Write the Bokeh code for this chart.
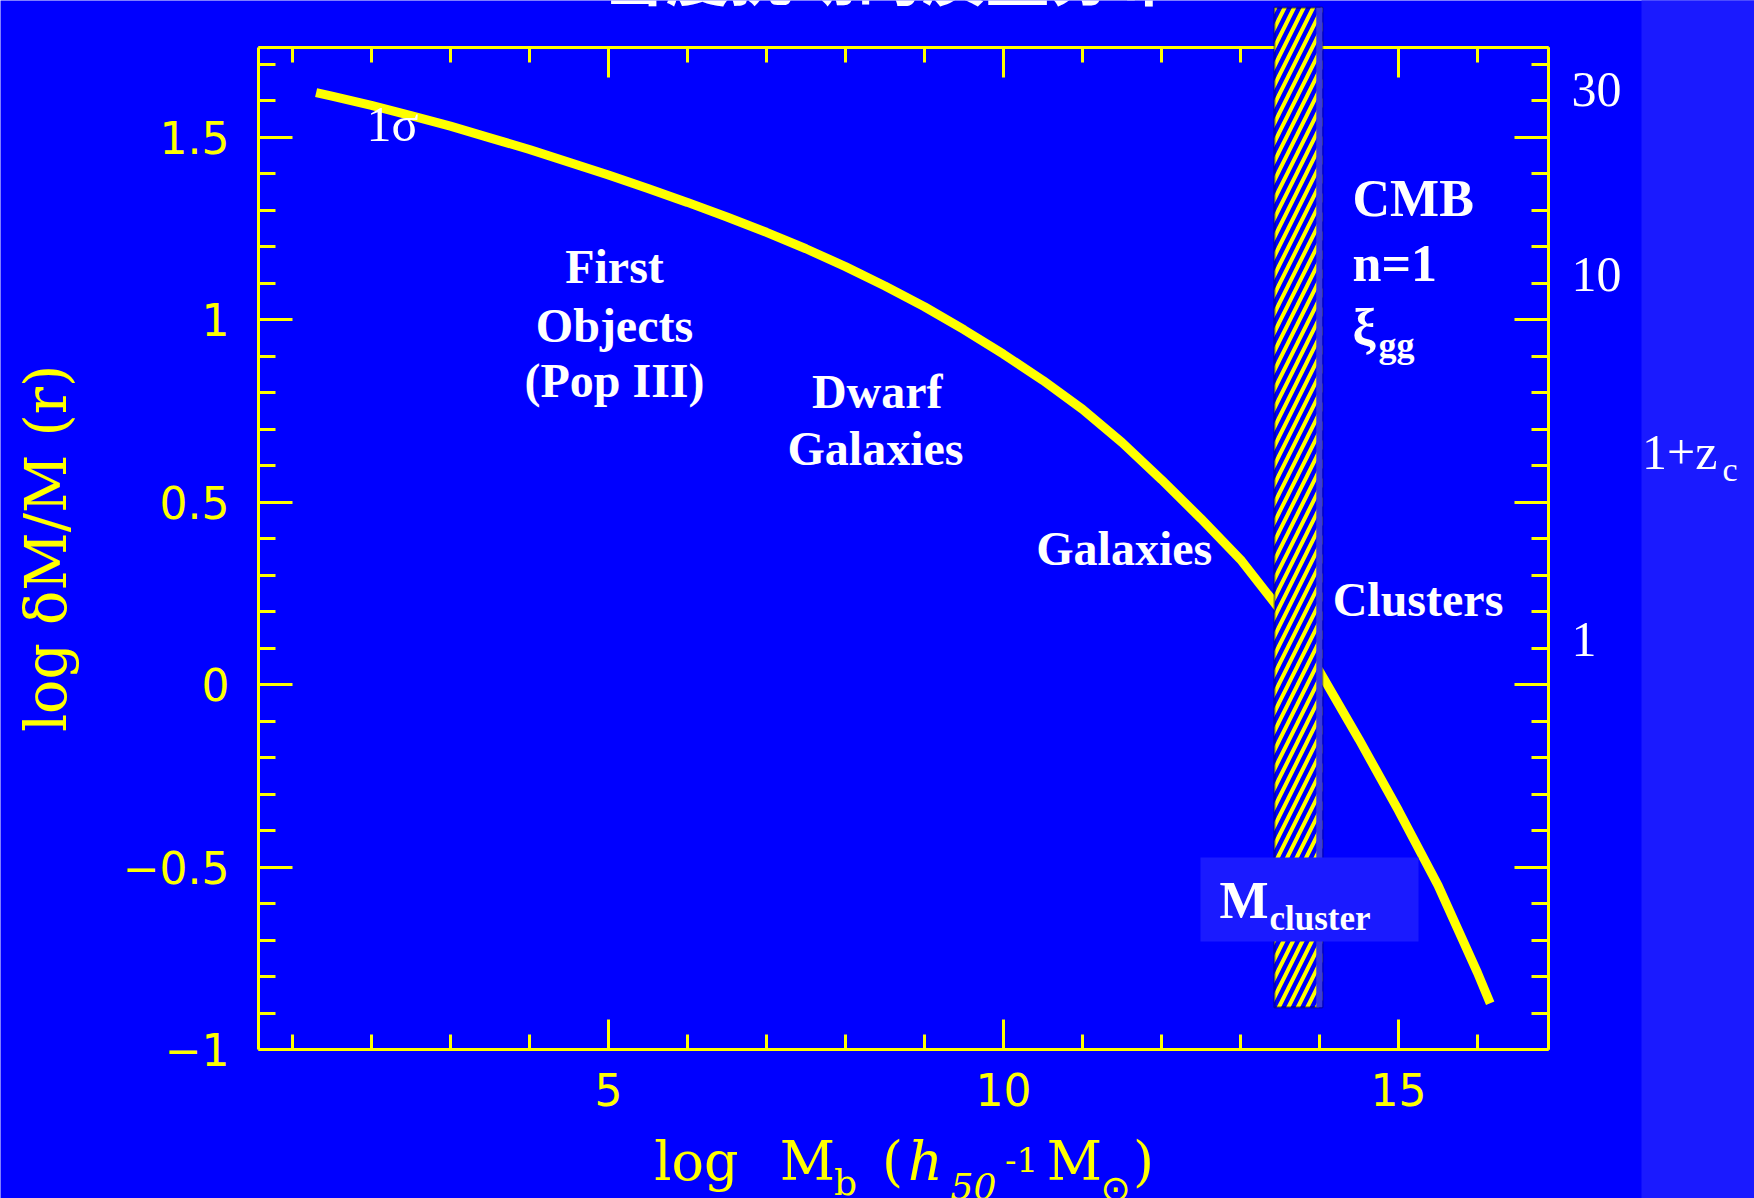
import numpy as np
from bokeh.plotting import figure
from bokeh.models import Range1d, FixedTicker, LinearAxis, Label, BoxAnnotation
from bokeh.embed import file_html
from bokeh.resources import INLINE

# rms mass fluctuation (log dM/M) against log baryonic mass
log_mass = [1.3, 1.5, 2.0, 2.5, 3.0, 3.5, 4.0, 4.5, 5.0, 5.5, 6.0, 6.5, 7.0,
            7.5, 8.0, 8.5, 9.0, 9.5, 10.0, 10.5, 11.0, 11.5, 12.0, 12.5,
            13.0, 13.5, 14.0, 14.5, 15.0, 15.5, 16.0, 16.16]
log_dmm = [1.623, 1.613, 1.588, 1.560, 1.531, 1.499, 1.467, 1.432, 1.397,
           1.360, 1.322, 1.282, 1.240, 1.195, 1.146, 1.093, 1.036, 0.973,
           0.906, 0.834, 0.755, 0.664, 0.562, 0.455, 0.343, 0.205, 0.037,
           -0.150, -0.345, -0.550, -0.790, -0.873]

# mass band of rich clusters (log M)
cluster_band = [13.43, 14.035]

# axis ticks
x_major = [5, 10, 15]
x_major_labels = ["5", "10", "15"]
x_minor = [1, 2, 3, 4, 6, 7, 8, 9, 11, 12, 13, 14, 16]
y_major = [-1, -0.5, 0, 0.5, 1, 1.5]
y_major_labels = ["\u22121", "\u22120.5", "0", "0.5", "1", "1.5"]
y_minor = [round(v, 1) for v in np.arange(-1.0, 1.75, 0.1)
           if round(v, 1) not in y_major]

# collapse redshift scale (1 + z_c) beside the right axis
zc_labels = ["30", "10", "1"]
zc_label_y = [1.631, 1.124, 0.123]

BLUE = "#0000ff"
STRIP = "#1a1aff"
YELLOW = "#ffff00"
WHITE = "#ffffff"

# plot box: data limits and where they sit on the page
X0, X1 = 0.571, 16.898
Y0, Y1 = -1.0, 1.7466
FL, FT, FW, FH = 258, 47, 1290, 1002
W, H = 1754, 1198


def dx(px):
    return X0 + (px - FL) * (X1 - X0) / FW


def dy(py):
    return Y1 - (py - FT) * (Y1 - Y0) / FH


p = figure(frame_width=W, frame_height=H, min_border=0,
           x_range=Range1d(dx(0), dx(W)), y_range=Range1d(dy(H), dy(0)),
           output_backend="svg", toolbar_location=None,
           background_fill_color=BLUE, border_fill_color=BLUE,
           outline_line_color=None)
p.grid.visible = False


def style_axis(ax, loc, bounds, ticks, minor, t_major, t_minor,
               labels=None, standoff=0):
    ax.fixed_location = loc
    ax.bounds = bounds
    ax.ticker = FixedTicker(ticks=ticks, minor_ticks=minor)
    ax.axis_line_color = YELLOW
    ax.axis_line_width = 3
    ax.major_tick_line_color = YELLOW
    ax.major_tick_line_width = 3
    ax.minor_tick_line_color = YELLOW
    ax.minor_tick_line_width = 3
    ax.major_tick_in = t_major
    ax.major_tick_out = 0
    ax.minor_tick_in = t_minor
    ax.minor_tick_out = 0
    if labels is not None:
        ax.major_label_overrides = {float(v): t for v, t in zip(ticks, labels)}
        ax.major_label_text_color = YELLOW
        ax.major_label_text_font = "DejaVu Sans"
        ax.major_label_text_font_size = "44px"
        ax.major_label_standoff = standoff


# labelled bottom and left axes
style_axis(p.xaxis[0], Y0, (X0, X1), x_major, x_minor, 30, 15,
           x_major_labels, 23)
style_axis(p.yaxis[0], X0, (Y0, Y1), y_major, y_minor, 34, 17,
           y_major_labels, 29)

# mirrored top and right axes: ticks only
for ticks, length in [(x_minor, 15), (x_major, 30)]:
    ax = LinearAxis()
    style_axis(ax, Y1, (X0, X1), [], ticks, 0, length)
    p.add_layout(ax, "above")
for ticks, length in [(y_minor, 17), (y_major, 34)]:
    ax = LinearAxis()
    style_axis(ax, X1, (Y0, Y1), [], ticks, 0, length)
    p.add_layout(ax, "right")

# lighter strip along the right edge of the page
p.add_layout(BoxAnnotation(left=dx(1641), right=dx(W + 10),
                           bottom=dy(H + 10), top=dy(-10),
                           fill_color=STRIP, fill_alpha=1.0, line_color=None))

# the fluctuation curve
p.line(log_mass, log_dmm, line_color=YELLOW, line_width=9, line_cap="butt")

# hatched cluster band with its shaded right edge
band_top, band_bottom = dy(7.3), dy(1006.7)
p.add_layout(BoxAnnotation(left=cluster_band[0], right=cluster_band[1],
                           bottom=band_bottom, top=band_top,
                           fill_color=BLUE, fill_alpha=1.0,
                           hatch_pattern="/", hatch_color=YELLOW,
                           hatch_scale=19, hatch_weight=4,
                           line_color="black", line_width=2.5))
shade_w = 6 * (X1 - X0) / FW
p.add_layout(BoxAnnotation(left=cluster_band[1] - shade_w, right=cluster_band[1],
                           bottom=band_bottom, top=band_top,
                           fill_color="#3a3ae0", fill_alpha=1.0,
                           line_color=None))

# panel behind the M_cluster label
p.add_layout(BoxAnnotation(left=dx(1200), right=dx(1418),
                           bottom=dy(941), top=dy(857),
                           fill_color=STRIP, fill_alpha=1.0, line_color=None))


def text(x, y, s, size, color=WHITE, font="Liberation Serif",
         style="bold", align="left", angle=0.0):
    p.add_layout(Label(x=x, y=y, text=s, text_font=font,
                       text_font_size=f"{size}px", text_font_style=style,
                       text_color=color, text_align=align,
                       text_baseline="alphabetic", angle=angle))


def mid(baseline_px, size, k=0.355):
    # vertical centre of a text line whose baseline sits at baseline_px
    return dy(baseline_px - k * size)


# title running off the top of the page
text(dx(889), mid(-0.5, 64, 0.436), "密度扰动的质量分布", 64,
     font="Noto Sans CJK SC", align="center")

# region labels
text(dx(366), mid(141, 50), "1σ", 50, style="normal")
for s, b in [("First", 283.3), ("Objects", 341.7), ("(Pop III)", 396.7)]:
    text(dx(614), mid(b, 48), s, 48, align="center")
text(dx(876.7), mid(408.3, 48), "Dwarf", 48, align="center")
text(dx(875), mid(465, 48), "Galaxies", 48, align="center")
text(dx(1123.7), mid(565, 48), "Galaxies", 48, align="center")
text(dx(1417.5), mid(616, 48), "Clusters", 48, align="center")
text(dx(1352), mid(216.7, 52), "CMB", 52)
text(dx(1352), mid(281.7, 52), "n=1", 52)
text(dx(1352), mid(345, 52), "ξ", 52)
text(dx(1378), mid(357, 36), "gg", 36)
text(dx(1219), mid(918.3, 52), "M", 52)
text(dx(1269), mid(930, 35), "cluster", 35)

# 1 + z_c values and their axis title
for s, y in zip(zc_labels, zc_label_y):
    text(dx(1571), y, s, 50, style="normal")
text(dx(1641.5), mid(469, 50), "1+z", 50, style="normal")
text(dx(1722), mid(481, 34), "c", 34, style="normal")

# axis titles
text(dx(45), dy(548), "log δM/M (r)", 57, color=YELLOW,
     font="DejaVu Serif", style="normal", align="center", angle=np.pi / 2)

xlab = [
    ("log", 696, 1180, 54, "normal", "DejaVu Serif"),
    ("M", 807, 1180, 54, "normal", "DejaVu Serif"),
    ("b", 845, 1195, 36, "normal", "DejaVu Serif"),
    ("(", 892, 1180, 54, "normal", "DejaVu Serif"),
    ("h", 925, 1180, 54, "italic", "DejaVu Serif"),
    ("50", 973, 1198, 36, "italic", "DejaVu Serif"),
    ("-1", 1021, 1171, 34, "normal", "DejaVu Serif"),
    ("M", 1074, 1180, 54, "normal", "DejaVu Serif"),
    ("⊙", 1115, 1201, 36, "normal", "DejaVu Sans"),
    (")", 1143, 1180, 54, "normal", "DejaVu Serif"),
]
for s, x, b, size, style, font in xlab:
    text(dx(x), mid(b, size), s, size, color=YELLOW, font=font, style=style,
         align="center")

open("out.html", "w").write(file_html(p, INLINE))
